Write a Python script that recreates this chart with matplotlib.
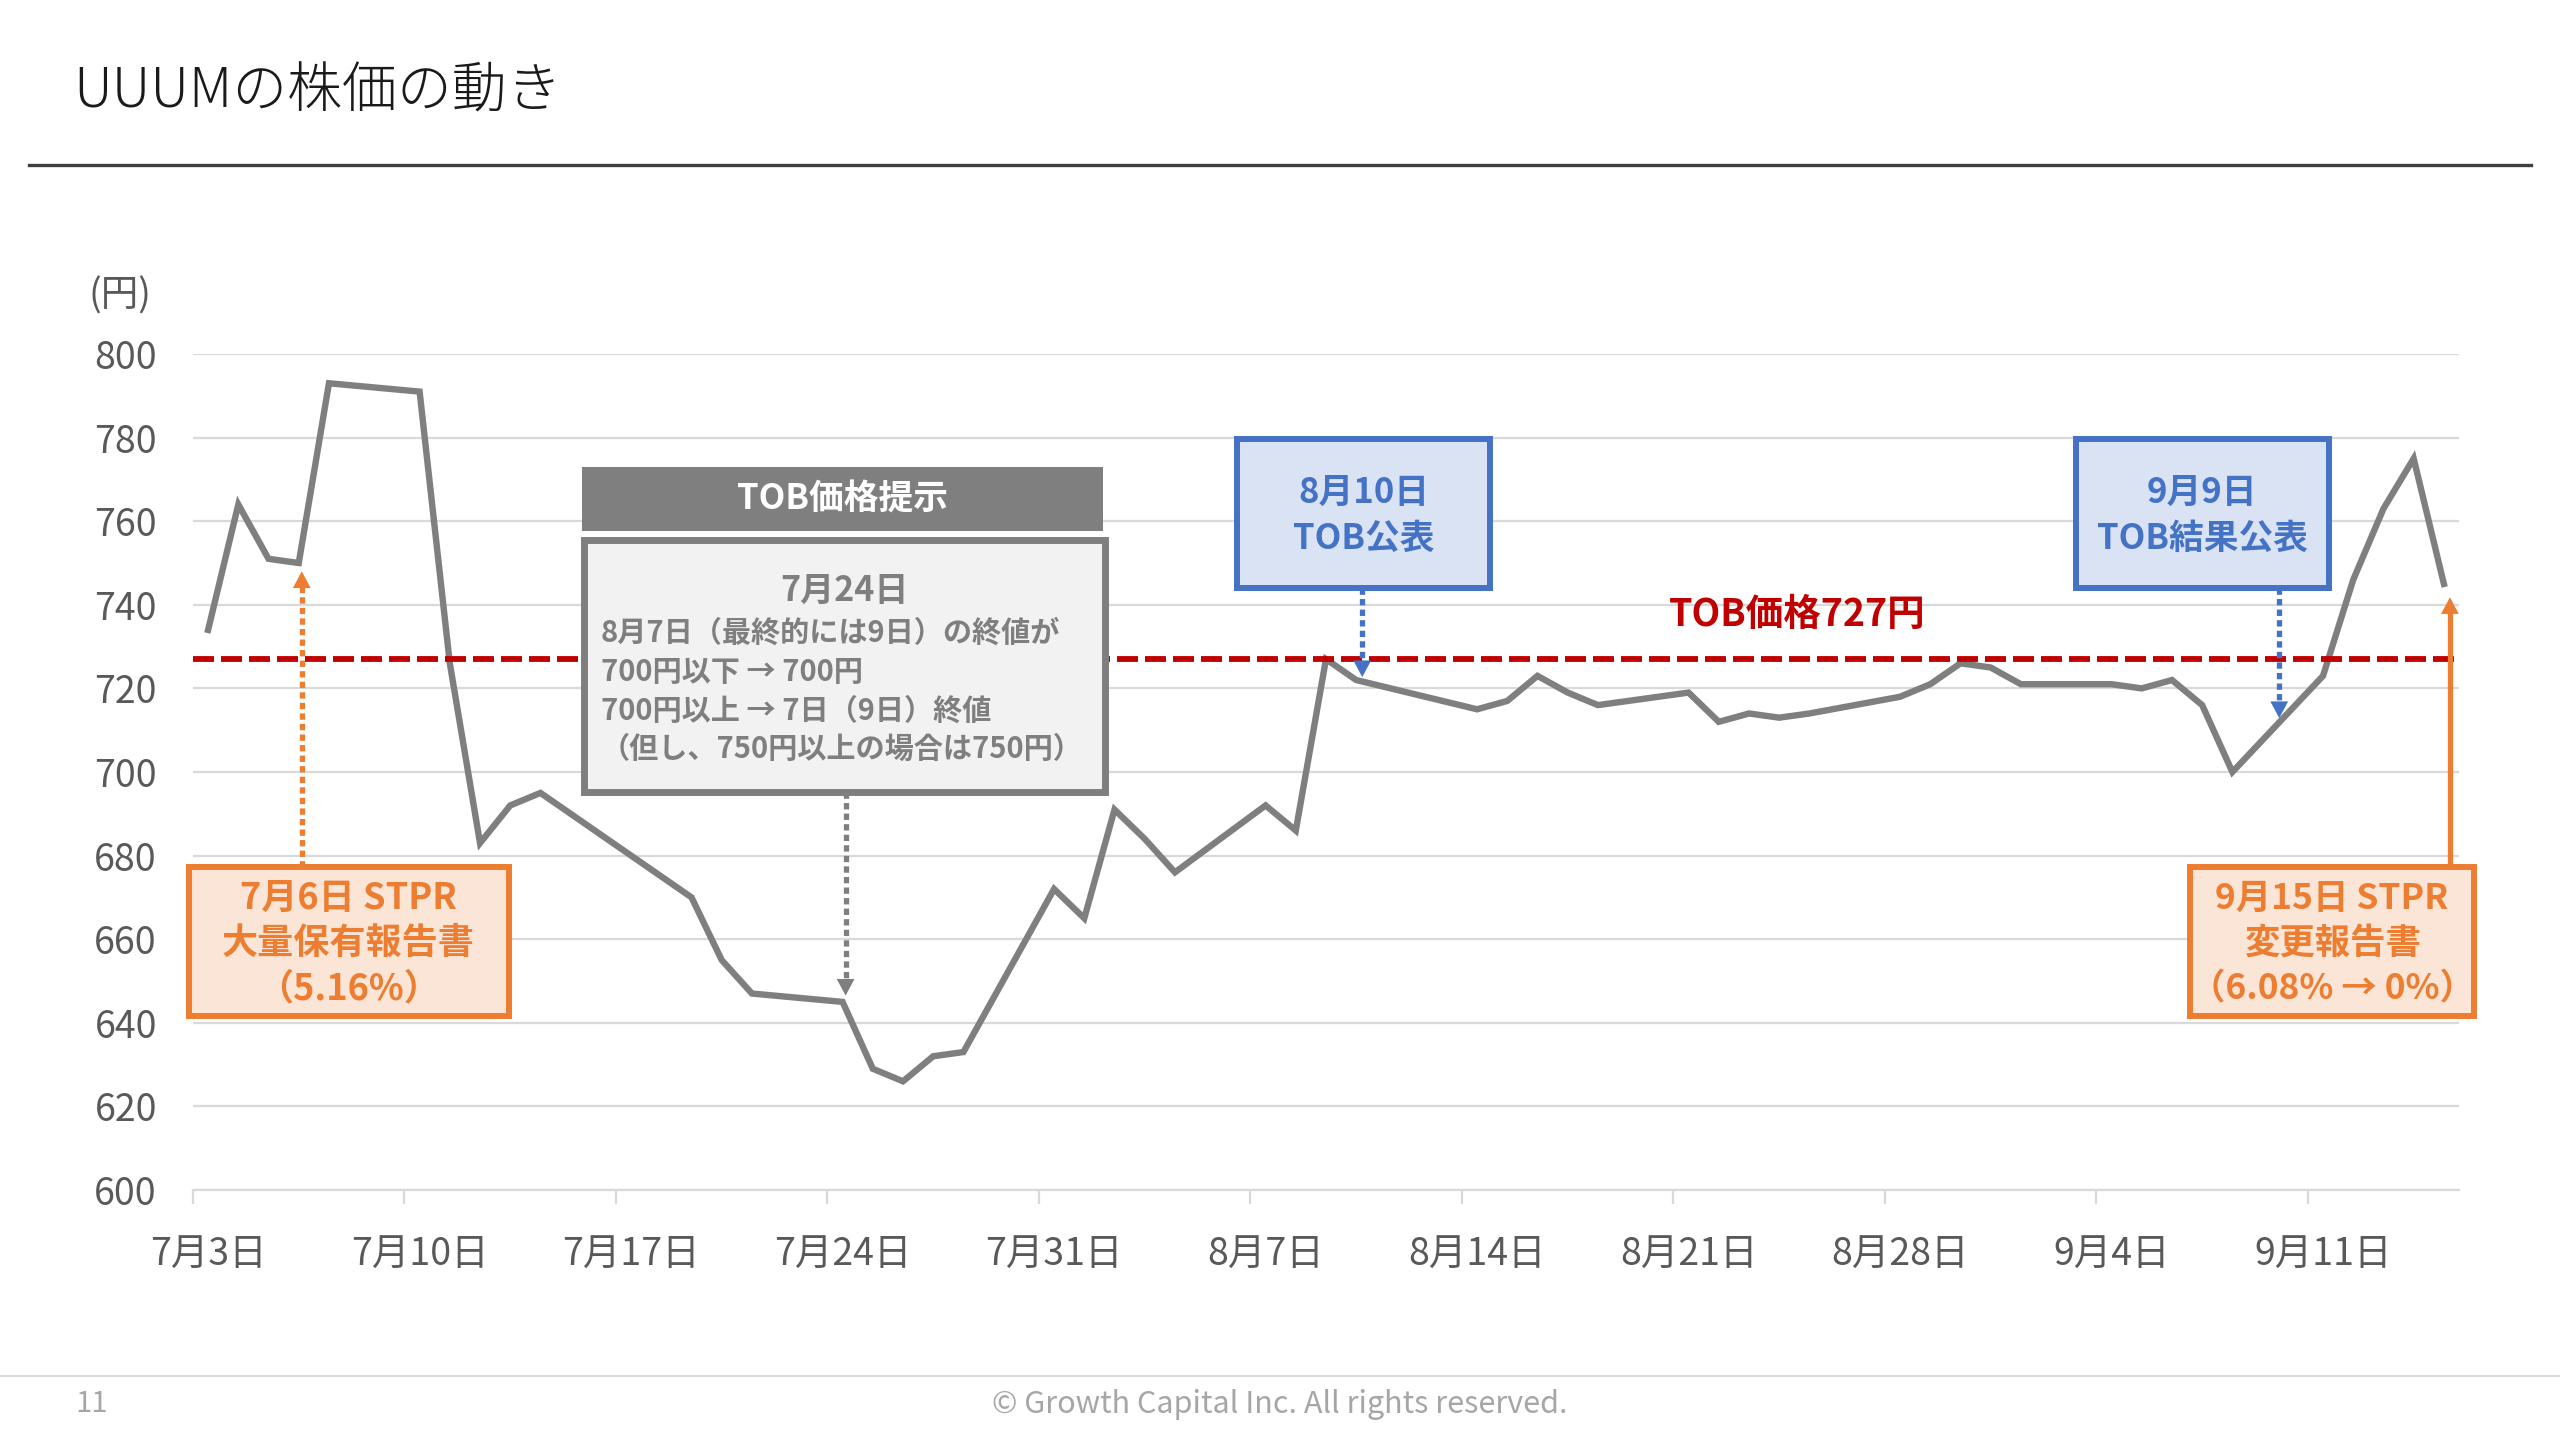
import matplotlib
matplotlib.use("Agg")
import matplotlib.pyplot as plt
from matplotlib.patches import Rectangle
import pandas as pd

plt.rcParams['font.family'] = ['Noto Sans CJK JP', 'DejaVu Sans']

# ---------------- data ----------------
dates = ["2023-07-03", "2023-07-04", "2023-07-05", "2023-07-06", "2023-07-07",
         "2023-07-10", "2023-07-11", "2023-07-12", "2023-07-13", "2023-07-14",
         "2023-07-18", "2023-07-19", "2023-07-20", "2023-07-21",
         "2023-07-24", "2023-07-25", "2023-07-26", "2023-07-27", "2023-07-28",
         "2023-07-31", "2023-08-01", "2023-08-02", "2023-08-03", "2023-08-04",
         "2023-08-07", "2023-08-08", "2023-08-09", "2023-08-10",
         "2023-08-14", "2023-08-15", "2023-08-16", "2023-08-17", "2023-08-18",
         "2023-08-21", "2023-08-22", "2023-08-23", "2023-08-24", "2023-08-25",
         "2023-08-28", "2023-08-29", "2023-08-30", "2023-08-31", "2023-09-01",
         "2023-09-04", "2023-09-05", "2023-09-06", "2023-09-07", "2023-09-08",
         "2023-09-11", "2023-09-12", "2023-09-13", "2023-09-14", "2023-09-15"]
prices = [734, 764, 751, 750, 793,
          791, 726, 683, 692, 695,
          675, 670, 655, 647,
          645, 629, 626, 632, 633,
          672, 665, 691, 684, 676,
          692, 686, 727, 722,
          715, 717, 723, 719, 716,
          719, 712, 714, 713, 714,
          718, 721, 726, 725, 721,
          721, 720, 722, 716, 700,
          723, 746, 763, 775, 745]
tob_price = 727
axis_start = "2023-07-03"
axis_end = "2023-09-15"
tick_step_days = 7
y_ticks = [600, 620, 640, 660, 680, 700, 720, 740, 760, 780, 800]

title = "UUUMの株価の動き"
unit_label = "(円)"
tob_label = "TOB価格727円"
footer_page = "11"
footer_text = "© Growth Capital Inc. All rights reserved."

# ---------------- colours ----------------
LINE_GRAY = "#7F7F7F"
GRID = "#D9D9D9"
TICK_TXT = "#595959"
RED = "#C00000"
ORANGE = "#ED7D31"
ORANGE_FILL = "#FBE5D6"
BLUE = "#4472C4"
BLUE_FILL = "#DAE3F3"
INFO_FILL = "#F2F2F2"

# ---------------- figure ----------------
fig = plt.figure(figsize=(25.6, 14.4), dpi=100)
ax = fig.add_axes([193/2560, 1 - 1190/1440, (2459-193)/2560, (1190-354)/1440])

t0 = pd.Timestamp(axis_start)
x = [(pd.Timestamp(d) - t0).days for d in dates]
n_days = (pd.Timestamp(axis_end) - t0).days + 1

ax.plot(x, prices, color=LINE_GRAY, lw=4.6, solid_joinstyle='miter', zorder=4)
ax.axhline(tob_price, color=RED, lw=4.2, linestyle=(0, (3.6, 1.2)), zorder=5)

ax.set_xlim(-0.5, n_days - 0.5)
ax.set_ylim(y_ticks[0], y_ticks[-1])
ax.set_yticks(y_ticks)
ax.yaxis.grid(True, color=GRID, lw=1.6)
ax.set_axisbelow(True)

major = list(range(0, n_days, tick_step_days))
labels = []
for k in major:
    d = t0 + pd.Timedelta(days=k)
    labels.append(f"{d.month}月{d.day}日")
ax.set_xticks(major)
ax.set_xticklabels(labels)
ax.set_xticks([k - 0.5 for k in major], minor=True)
ax.tick_params(axis='x', which='major', length=0, pad=33, labelsize=27, labelcolor=TICK_TXT)
ax.tick_params(axis='x', which='minor', length=10, width=1.6, color=GRID, direction='out')
ax.tick_params(axis='y', length=0, pad=26, labelsize=27, labelcolor=TICK_TXT)
for s in ['top', 'right', 'left']:
    ax.spines[s].set_visible(False)
ax.spines['bottom'].set_color(GRID)
ax.spines['bottom'].set_linewidth(1.6)

# ---------------- annotation helpers ----------------
def box(x0, x1, y0, y1, fc, ec, lw):
    ax.add_patch(Rectangle((x0, y0), x1 - x0, y1 - y0, facecolor=fc, edgecolor=ec,
                           lw=lw, clip_on=False, zorder=7, transform=ax.transData))

def arrow(xa, y_from, y_to, color, ls, lw=3.8):
    direction = 1 if y_to > y_from else -1
    head = 3.2 * direction
    ax.plot([xa, xa], [y_from, y_to - head], color=color, lw=lw, linestyle=ls,
            solid_capstyle='butt', dash_capstyle='butt', clip_on=False, zorder=6)
    ax.annotate('', xy=(xa, y_to), xytext=(xa, y_to - head),
                arrowprops=dict(arrowstyle='-|>,head_length=0.6,head_width=0.32',
                                color=color, lw=0, shrinkA=0, shrinkB=0,
                                mutation_scale=20),
                annotation_clip=False, zorder=6)

DOT = (0, (1.2, 0.8))

# TOB price label
ax.text(52.6, 737.8, tob_label, color=RED, fontsize=27, fontweight='bold',
        ha='center', va='center', zorder=8)

# Gray TOB price proposal box
box(12.37, 29.61, 757.7, 773.0, LINE_GRAY, 'none', 0)
ax.text(21.0, 765.3, "TOB価格提示", color='white', fontsize=25, fontweight='bold',
        ha='center', va='center', zorder=8)
box(12.43, 29.68, 695.2, 755.5, INFO_FILL, LINE_GRAY, 5)
ax.text(21.05, 743.4, "7月24日", color=LINE_GRAY, fontsize=24.5, fontweight='bold',
        ha='center', va='center', zorder=8)
info_lines = ["8月7日（最終的には9日）の終値が",
              "700円以下 → 700円",
              "700円以上 → 7日（9日）終値",
              "（但し、750円以上の場合は750円）"]
for yy, line in zip([733.4, 724.0, 714.6, 705.6], info_lines):
    ax.text(13.0, yy, line, color=LINE_GRAY, fontsize=21, fontweight='bold',
            ha='left', va='center', zorder=8)
arrow(21.1, 695.2, 646.5, LINE_GRAY, DOT)

# Blue boxes
box(34.05, 42.43, 744.0, 779.7, BLUE_FILL, BLUE, 4.3)
ax.text(38.24, 766.8, "8月10日", color=BLUE, fontsize=25, fontweight='bold',
        ha='center', va='center', zorder=8)
ax.text(38.24, 755.8, "TOB公表", color=BLUE, fontsize=25, fontweight='bold',
        ha='center', va='center', zorder=8)
arrow(38.2, 744.0, 722.7, BLUE, DOT)

box(61.82, 70.19, 744.0, 779.7, BLUE_FILL, BLUE, 4.3)
ax.text(66.0, 766.8, "9月9日", color=BLUE, fontsize=25, fontweight='bold',
        ha='center', va='center', zorder=8)
ax.text(66.0, 755.8, "TOB結果公表", color=BLUE, fontsize=25, fontweight='bold',
        ha='center', va='center', zorder=8)
arrow(68.55, 744.0, 712.9, BLUE, DOT)

# Orange boxes
box(-0.64, 9.95, 641.6, 677.3, ORANGE_FILL, ORANGE, 4.3)
for yy, line in zip([669.8, 659.0, 648.0], ["7月6日 STPR", "大量保有報告書", "（5.16%）"]):
    ax.text(4.65, yy, line, color=ORANGE, fontsize=26, fontweight='bold',
            ha='center', va='center', zorder=8)
arrow(3.1, 677.3, 748.0, ORANGE, DOT)

box(65.59, 75.0, 641.6, 677.3, ORANGE_FILL, ORANGE, 4.3)
for yy, line in zip([669.8, 659.0, 648.0], ["9月15日 STPR", "変更報告書", "（6.08% → 0%）"]):
    ax.text(70.3, yy, line, color=ORANGE, fontsize=25.5, fontweight='bold',
            ha='center', va='center', zorder=8)
arrow(74.2, 677.3, 741.8, ORANGE, '-')

# ---------------- page furniture ----------------
fig.text(73/2560, 1 - 92/1440, title, fontsize=39.5, fontweight='light',
         color='#1a1a1a', ha='left', va='center')
fig.add_artist(plt.Line2D([29/2560, 2531/2560], [1 - 165/1440] * 2,
                          color='#404040', lw=2.4))
fig.text(88/2560, 1 - 296/1440, unit_label, fontsize=27, color=TICK_TXT,
         ha='left', va='center')
fig.add_artist(plt.Line2D([0, 1], [1 - 1376/1440] * 2, color=GRID, lw=1.5))
fig.text(75/2560, 1 - 1404/1440, footer_page, fontsize=21, color='#A6A6A6',
         ha='left', va='center')
fig.text(1280/2560, 1 - 1404/1440, footer_text, fontsize=22, color='#A6A6A6',
         ha='center', va='center')

fig.savefig("out.png", dpi=100)
